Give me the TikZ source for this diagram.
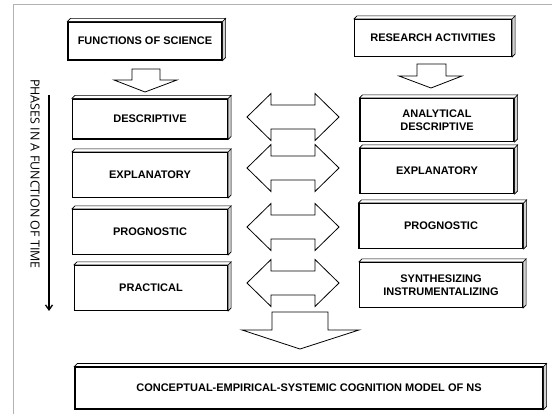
\documentclass[tikz,border=0pt]{standalone}
\usepackage{fontspec}
\setmainfont{Liberation Sans}
\newfontfamily\sidefont{Open Sans}
\usetikzlibrary{arrows.meta}

\begin{document}
\begin{tikzpicture}
    [x = 1pt, y = -1pt,
     block/.style = {draw, line width = 1.1pt, fill = white, inner sep = 2pt, align = center,
                     font = \bfseries\fontsize{11}{12.5}\selectfont},
     blockarrow/.style = {draw, fill = white, line width = .8pt, line join = miter}]
    \useasboundingbox (0,0) rectangle (552,414);
    \draw[gray!60, line width = 1pt] (13,414) -- (13,5) -- (552,5);

    % left column
    \node[block, minimum width = 154pt, minimum height = 38pt] (fs) at (145,41) {FUNCTIONS OF SCIENCE};
    \node[block, minimum width = 155pt, minimum height = 40pt] (de) at (150,119) {DESCRIPTIVE};
    \node[block, minimum width = 155pt, minimum height = 45pt] (ex) at (150,175) {EXPLANATORY};
    \node[block, minimum width = 155pt, minimum height = 45pt] (pr) at (150,232) {PROGNOSTIC};
    \node[block, minimum width = 153pt, minimum height = 45pt] (pc) at (151,288) {PRACTICAL};

    % right column
    \node[block, minimum width = 157pt, minimum height = 37pt] (ra) at (433,38) {RESEARCH ACTIVITIES};
    \node[block, minimum width = 154pt, minimum height = 43pt] (ad) at (437,120) {ANALYTICAL\\DESCRIPTIVE};
    \node[block, minimum width = 154pt, minimum height = 45pt] (ex2) at (437,171) {EXPLANATORY};
    \node[block, minimum width = 164pt, minimum height = 45pt] (pr2) at (441,226) {PROGNOSTIC};
    \node[block, minimum width = 163pt, minimum height = 45pt] (si) at (441,285) {SYNTHESIZING\\INSTRUMENTALIZING};

    \node[block, minimum width = 468pt, minimum height = 42pt] (cm) at (309,388)
        {CONCEPTUAL-EMPIRICAL-SYSTEMIC COGNITION MODEL OF NS};

    % 3d faces
    \foreach \n in {fs,de,ex,pr,pc,ra,ad,ex2,pr2,si,cm} {
      \draw[line width = .6pt, fill = gray!35] (\n.north east) -- ++(3pt,3pt)
        -- ([shift = {(3pt,3pt)}]\n.south east) -- (\n.south east) -- cycle;
      \draw[line width = .6pt, fill = white] (\n.north west) -- ++(3pt,3pt)
        -- ([shift = {(3pt,3pt)}]\n.north east) -- (\n.north east) -- cycle;
    }

    % block arrows
    \draw[blockarrow] (132,69) -- (160,69) -- (160,80) -- (177,80) -- (145,92)
      -- (114,80) -- (132,80) -- cycle;
    \draw[blockarrow] (417,64) -- (446,64) -- (446,76) -- (462,76) -- (431,88)
      -- (399,76) -- (417,76) -- cycle;
    \draw[blockarrow] (272,312) -- (328,312) -- (328,330) -- (359,330) -- (300,349)
      -- (242,330) -- (272,330) -- cycle;
    \foreach \y in {117,168,227,283}
      \draw[blockarrow] (247,\y) -- ++(24,-23.5) -- ++(0,11.5) -- ++(44,0) -- ++(0,-11.5)
        -- ++(24,23.5) -- ++(-24,23.5) -- ++(0,-11.5) -- ++(-44,0) -- ++(0,11.5) -- cycle;

    % time axis
    \node[font = \sidefont\fontsize{12.5}{14}\selectfont, rotate = -90] (phases) at (35,174)
        {PHASES IN A FUNCTION OF TIME};
    \coordinate (t0) at (49,95);
    \coordinate (t1) at (49,311);
    \draw[-{Straight Barb[length = 5pt, width = 7pt]}, line width = 1.3pt] (t0) -- (t1);
  \end{tikzpicture}
\end{document}
